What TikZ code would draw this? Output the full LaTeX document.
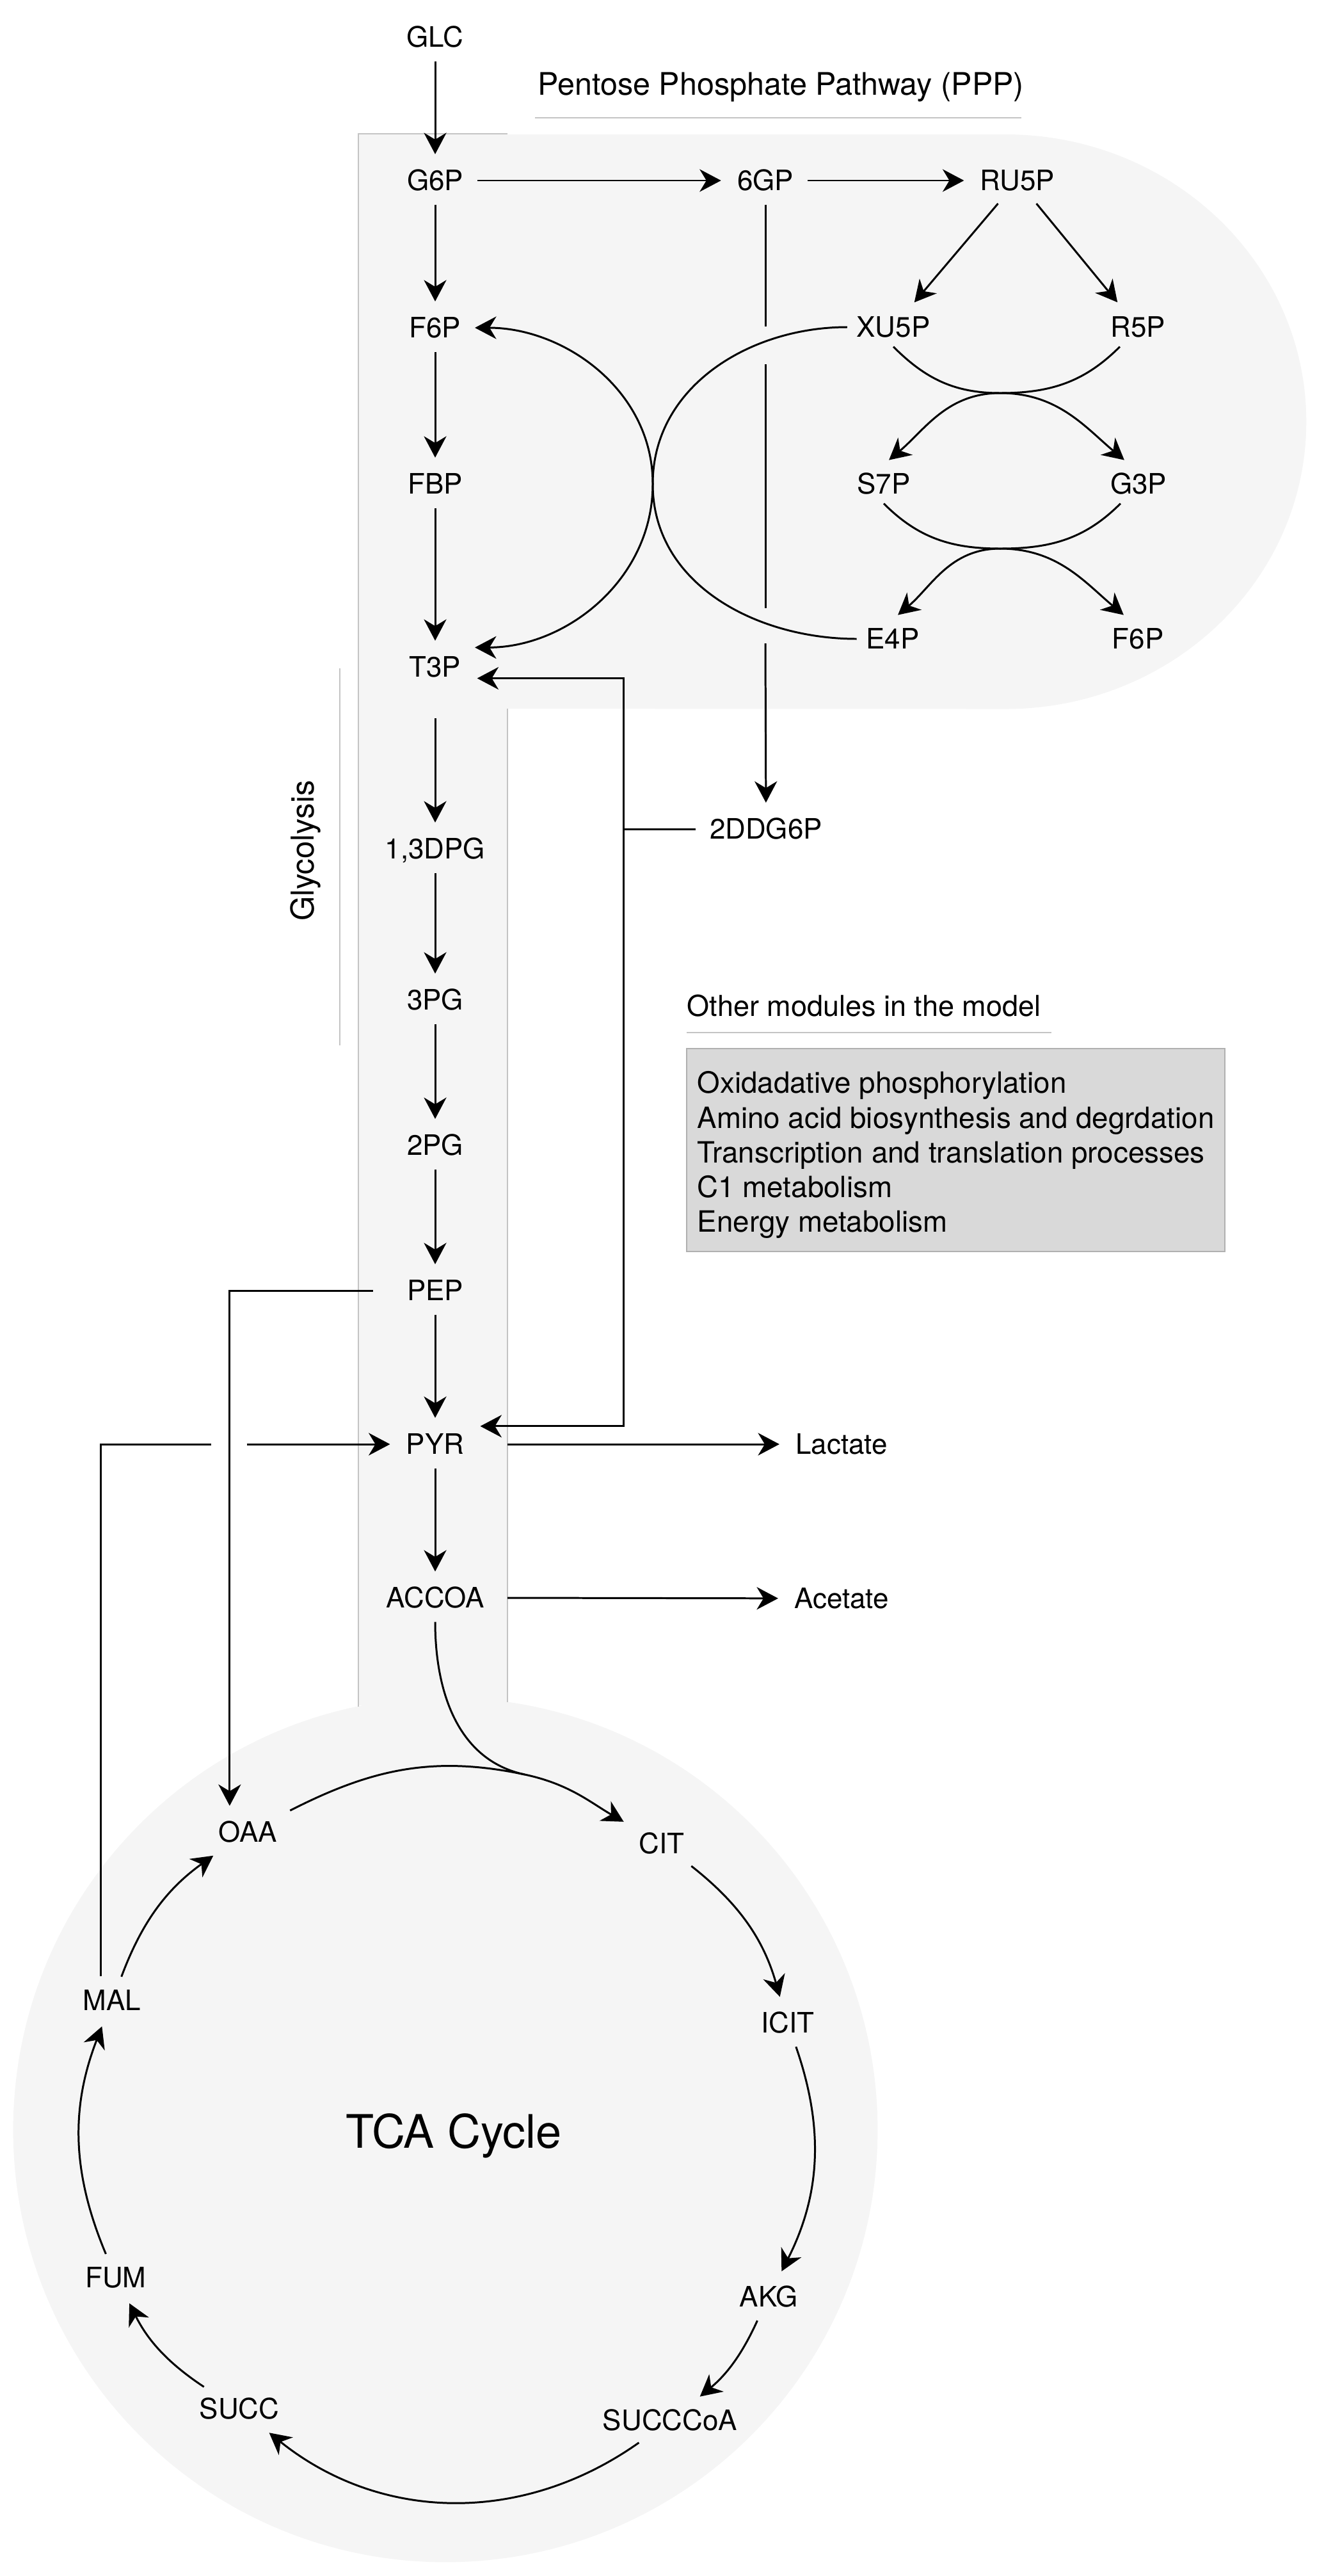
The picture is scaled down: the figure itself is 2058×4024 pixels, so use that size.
\documentclass[tikz,border=0pt]{standalone}
\usepackage{fontspec}
\setmainfont{TeX Gyre Heros}
\usetikzlibrary{arrows.meta}

\definecolor{bgfill}{HTML}{F5F5F5}
\definecolor{bgline}{HTML}{C4C4C4}
\definecolor{boxfill}{HTML}{D9D9D9}
\definecolor{boxline}{HTML}{B0B0B0}

\begin{document}
\begin{tikzpicture}[x=0.01cm,y=0.01cm,
  >={Stealth[length=9.5pt,width=10pt,inset=3pt]},
  met/.style={inner sep=4pt,text height=9pt,text depth=0pt,font=\fontsize{12.5}{15}\selectfont},
  flow/.style={line width=0.85pt},
  rxn/.style={flow,->,shorten <=2pt,shorten >=3pt},
  rule/.style={bgline,line width=0.5pt}]
\useasboundingbox (0,0) rectangle (2058,-4024);

\fill[bgfill] (696,-3327) circle[radius=6.75cm];
\fill[bgfill] (560,-209) rectangle (793,-2664);
\fill[bgfill] (561,-210) -- (1571,-210) arc[start angle=90,end angle=-90,x radius=4.7cm,y radius=4.485cm] -- (561,-1107) -- cycle;
\draw[rule] (560,-2666) -- (560,-209) -- (793,-209);
\draw[rule] (793,-1107) -- (793,-2659);

\node[font=\fontsize{13.8}{16}\selectfont] (pppT) at (1220,-136) {Pentose Phosphate Pathway (PPP)};
\draw[rule] (836,-184) -- (1596,-184);
\node[rotate=90,font=\fontsize{14}{16}\selectfont] (glyT) at (477,-1329) {Glycolysis};
\draw[rule] (531,-1044) -- (531,-1633);
\node[anchor=west,inner sep=0pt,font=\fontsize{12.8}{15}\selectfont] (othT) at (1073,-1571) {Other modules in the model};
\draw[rule] (1073,-1613) -- (1643,-1613);
\draw[boxline,fill=boxfill,line width=0.5pt] (1073,-1638) rectangle (1914,-1955);
\node[anchor=north west,inner sep=0pt,align=left,font=\fontsize{13}{15.4}\selectfont] (mods) at (1089,-1673) {Oxidadative phosphorylation\\Amino acid biosynthesis and degrdation\\Transcription and translation processes\\C1 metabolism\\Energy metabolism};
\node[font=\fontsize{20.5}{24}\selectfont] (tcaT) at (709,-3336) {TCA Cycle};

\node[met] (GLC) at (680,-58) {GLC};
\node[met] (G6P) at (680,-282) {G6P};
\node[met] (F6P) at (680,-512) {F6P};
\node[met] (FBP) at (680,-756) {FBP};
\node[met] (T3P) at (680,-1042) {T3P};
\node[met] (DPG) at (680,-1326) {1,3DPG};
\node[met] (PG3) at (680,-1562) {3PG};
\node[met] (PG2) at (680,-1789) {2PG};
\node[met] (PEP) at (680,-2016) {PEP};
\node[met] (PYR) at (680,-2256) {PYR};
\node[met] (ACCOA) at (680,-2496) {ACCOA};
\node[met] (GP6) at (1196,-282) {6GP};
\node[met] (RU5P) at (1590,-282) {RU5P};
\node[met] (XU5P) at (1396,-511) {XU5P};
\node[met] (R5P) at (1778,-511) {R5P};
\node[met] (S7P) at (1381,-756) {S7P};
\node[met] (G3P) at (1779,-756) {G3P};
\node[met] (E4P) at (1395,-998) {E4P};
\node[met] (F6Pb) at (1778,-998) {F6P};
\node[met] (DDG) at (1197,-1295) {2DDG6P};
\node[met] (LAC) at (1315,-2256) {Lactate};
\node[met] (ACE) at (1315,-2497) {Acetate};
\node[met] (OAA) at (387,-2862) {OAA};
\node[met] (CIT) at (1034,-2880) {CIT};
\node[met] (ICIT) at (1231,-3160) {ICIT};
\node[met] (AKG) at (1201,-3588) {AKG};
\node[met] (SUCCCoA) at (1047,-3781) {SUCCCoA};
\node[met] (SUCC) at (374,-3763) {SUCC};
\node[met] (FUM) at (181,-3558) {FUM};
\node[met] (MAL) at (175,-3125) {MAL};

\coordinate (cut1) at (1196,-510);
\coordinate (cut2) at (1196,-569);
\coordinate (cut3) at (1196,-950);
\coordinate (cut4) at (1196,-1005);
\coordinate (ppA) at (1563,-614);
\coordinate (ppB) at (1563,-857);
\coordinate (ppC) at (1020,-756);
\coordinate (jn) at (974,-1295);
\coordinate (colR) at (793,0);
\coordinate (brk1) at (330,-2256);
\coordinate (brk2) at (386,-2256);
\coordinate (acJoin) at (820,-2772);

\draw[rxn] (GLC) -- (G6P);
\draw[rxn] (G6P) -- (F6P);
\draw[rxn] (F6P) -- (FBP);
\draw[rxn] (FBP) -- (T3P);
\draw[rxn,shorten <=14pt] (T3P) -- (DPG);
\draw[rxn] (DPG) -- (PG3);
\draw[rxn] (PG3) -- (PG2);
\draw[rxn] (PG2) -- (PEP);
\draw[rxn] (PEP) -- (PYR);
\draw[rxn] (PYR) -- (ACCOA);

\draw[rxn] (G6P) -- (GP6);
\draw[rxn] (GP6) -- (RU5P);
\draw[rxn] (RU5P) -- (XU5P);
\draw[rxn] (RU5P) -- (R5P);
\draw[flow,shorten <=2pt] (GP6) -- (cut1);
\draw[flow] (cut2) -- (cut3);
\draw[rxn,shorten <=0pt] (cut4) -- (DDG);

\draw[flow] (XU5P.south) to[out=-45,in=180] (ppA) to[out=0,in=-135] ([xshift=-8pt]R5P.south);
\draw[flow,<->,shorten <=3pt,shorten >=3pt] (S7P.north) to[out=40,in=180] (ppA) to[out=0,in=140] ([xshift=-4pt]G3P.north);
\draw[flow] (S7P.south) to[out=-45,in=180] (ppB) to[out=0,in=-135] ([xshift=-8pt]G3P.south);
\draw[flow,<->,shorten <=3pt,shorten >=3pt] (E4P.north) to[out=40,in=180] (ppB) to[out=0,in=140] ([xshift=-4pt]F6Pb.north);
\draw[flow] (XU5P.west) to[out=180,in=90] (ppC) to[out=-90,in=180] (E4P.west);
\draw[flow,<->,shorten <=2pt,shorten >=2pt] (F6P.east) to[out=0,in=90] (ppC) to[out=-90,in=0] (T3P.north east);

\draw[flow,shorten <=2pt] (DDG) -- (jn);
\draw[rxn,shorten <=0pt] (jn) |- ([yshift=-5pt]T3P.east);
\draw[rxn,shorten <=0pt] (jn) |- ([yshift=8pt]PYR.east);
\draw[rxn,shorten <=0pt] (PYR.east -| colR) -- (LAC);
\draw[rxn,shorten <=0pt] (ACCOA.east -| colR) -- (ACE);
\draw[rxn,shorten <=11pt] (PEP.west) -| ([xshift=-8pt]OAA.north);
\draw[flow,shorten <=2pt] ([xshift=-5pt]MAL.north) |- (brk1);
\draw[rxn,shorten <=0pt] (brk2) -- (PYR);

\draw[rxn] (OAA) to[out=27,in=168] (acJoin) to[out=-12,in=150] (CIT);
\draw[flow,shorten <=2pt] (ACCOA) to[out=-90,in=168] (acJoin);
\draw[rxn] (CIT) to[bend left=18] (ICIT);
\draw[rxn] (ICIT) to[bend left=23] (AKG);
\draw[rxn] (AKG) to[bend left=13] (SUCCCoA);
\draw[rxn] (SUCCCoA) to[bend left=37] (SUCC);
\draw[rxn] (SUCC) to[bend left=15] (FUM);
\draw[rxn] (FUM) to[bend left=22] (MAL);
\draw[rxn] (MAL) to[bend left=17] (OAA);
\end{tikzpicture}
\end{document}
